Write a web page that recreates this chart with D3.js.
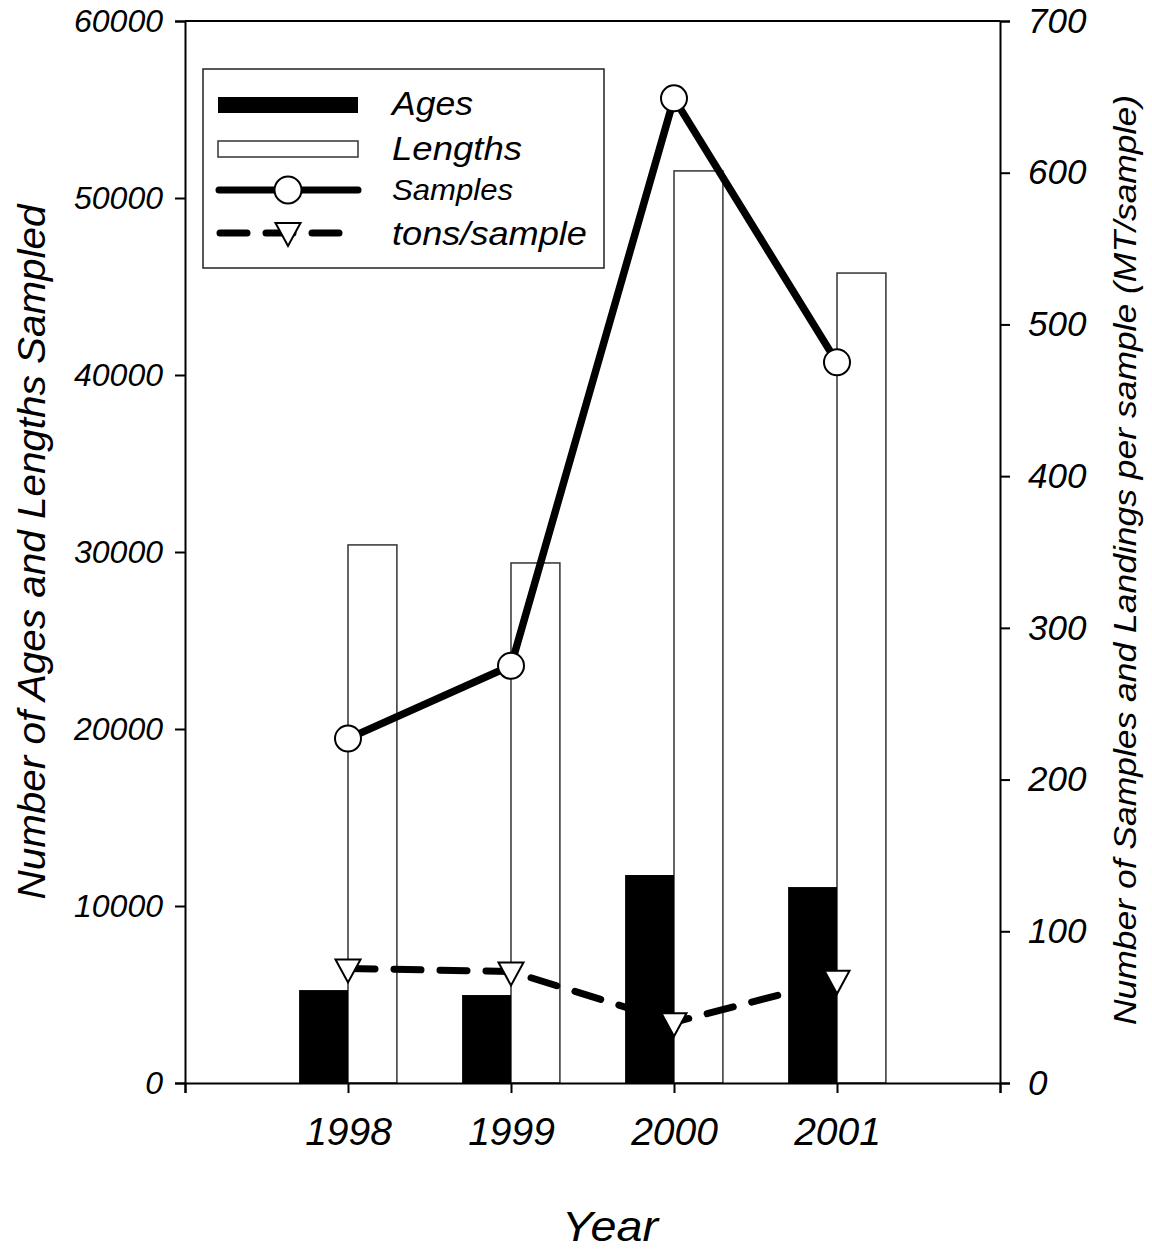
<!DOCTYPE html>
<html><head><meta charset="utf-8">
<script src="https://cdn.jsdelivr.net/npm/d3@7"></script>
<style>
body{margin:0;background:#fff;}
svg{display:block;font-family:"Liberation Sans",Arial,sans-serif;}
</style></head>
<body><svg id="c" width="1152" height="1253"></svg>
<script>
const years = [1998, 1999, 2000, 2001];
const ages = [5250, 4970, 11750, 11070];
const lengths = [30400, 29380, 51530, 45760];
const samples = [227, 275, 649, 475];
const tonsPerSample = [75.5, 73.5, 40, 68];
const leftTicks = [0, 10000, 20000, 30000, 40000, 50000, 60000];
const rightTicks = [0, 100, 200, 300, 400, 500, 600, 700];
const xTicks = [1997, 1998, 1999, 2000, 2001, 2002];
const xTickLabels = ["", "1998", "1999", "2000", "2001", ""];
const legendItems = ["Ages", "Lengths", "Samples", "tons/sample"];

const svg = d3.select("#c");
const L = 185, R = 1000, T = 21, B = 1083;
const x = d3.scaleLinear().domain([1997, 2002]).range([L, R]);
const yL = d3.scaleLinear().domain([0, 60000]).range([B, T]);
const yR = d3.scaleLinear().domain([0, 700]).range([B, T]);
const barW = (x(1998) - x(1997)) * 0.3;

// bars: lengths (white) right of tick, ages (black) left of tick
svg.append("g").selectAll("rect").data(years).join("rect")
  .attr("x", (d) => x(d)).attr("y", (d, i) => yL(lengths[i]))
  .attr("width", barW).attr("height", (d, i) => B - yL(lengths[i]))
  .attr("fill", "#fff").attr("stroke", "#333").attr("stroke-width", 1.5);
svg.append("g").selectAll("rect").data(years).join("rect")
  .attr("x", (d) => x(d) - barW).attr("y", (d, i) => yL(ages[i]))
  .attr("width", barW).attr("height", (d, i) => B - yL(ages[i]))
  .attr("fill", "#000");

// frame top line
svg.append("line").attr("x1", L).attr("x2", R).attr("y1", T).attr("y2", T)
  .attr("stroke", "#000").attr("stroke-width", 2);

// axes
const gl = svg.append("g").attr("transform", `translate(${L},0)`)
  .call(d3.axisLeft(yL).tickValues(leftTicks).tickSize(10).tickPadding(12).tickFormat(d3.format("d")));
gl.selectAll("text").attr("font-size", 32).attr("font-style", "italic").attr("font-family", "Liberation Sans");
const gr = svg.append("g").attr("transform", `translate(${R},0)`)
  .call(d3.axisRight(yR).tickValues(rightTicks).tickSize(10).tickPadding(18).tickFormat(d3.format("d")));
gr.selectAll("text").attr("font-size", 35).attr("font-style", "italic").attr("font-family", "Liberation Sans");
const gb = svg.append("g").attr("transform", `translate(0,${B})`)
  .call(d3.axisBottom(x).tickValues(xTicks).tickSize(10).tickPadding(24).tickFormat((d, i) => xTickLabels[i]));
gb.selectAll("text").attr("font-size", 39).attr("font-style", "italic").attr("font-family", "Liberation Sans");
[gl, gr, gb].forEach(g => {
  g.select(".domain").attr("stroke-width", 2);
  g.selectAll(".tick line").attr("stroke-width", 2);
  g.selectAll("text").attr("fill", "#000");
});

// tons/sample dashed line
svg.append("path").datum(years)
  .attr("d", d3.line().x(d => x(d)).y((d, i) => yR(tonsPerSample[i])))
  .attr("fill", "none").attr("stroke", "#000").attr("stroke-width", 7)
  .attr("stroke-dasharray", "27,19").attr("stroke-linecap", "round");
// samples line
svg.append("path").datum(years)
  .attr("d", d3.line().x(d => x(d)).y((d, i) => yR(samples[i])))
  .attr("fill", "none").attr("stroke", "#000").attr("stroke-width", 7.5)
  .attr("stroke-linejoin", "round");

const tri = (cx, cy) => `M${cx-12.5},${cy-9}L${cx+12.5},${cy-9}L${cx},${cy+14}Z`;
svg.append("g").selectAll("path").data(years).join("path")
  .attr("d", (d, i) => tri(x(d), yR(tonsPerSample[i])))
  .attr("fill", "#fff").attr("stroke", "#000").attr("stroke-width", 2);
svg.append("g").selectAll("circle").data(years).join("circle")
  .attr("cx", d => x(d)).attr("cy", (d, i) => yR(samples[i])).attr("r", 13)
  .attr("fill", "#fff").attr("stroke", "#000").attr("stroke-width", 2);

// legend
const lg = svg.append("g");
lg.append("rect").attr("x", 203).attr("y", 69).attr("width", 401).attr("height", 199)
  .attr("fill", "#fff").attr("stroke", "#222").attr("stroke-width", 1.5);
lg.append("rect").attr("x", 218).attr("y", 97).attr("width", 140).attr("height", 16).attr("fill", "#000");
lg.append("rect").attr("x", 218).attr("y", 141).attr("width", 140).attr("height", 16)
  .attr("fill", "#fff").attr("stroke", "#333").attr("stroke-width", 1.5);
lg.append("line").attr("x1", 219).attr("x2", 358).attr("y1", 190).attr("y2", 190)
  .attr("stroke", "#000").attr("stroke-width", 7).attr("stroke-linecap", "round");
lg.append("circle").attr("cx", 288).attr("cy", 190).attr("r", 13.5)
  .attr("fill", "#fff").attr("stroke", "#000").attr("stroke-width", 2);
lg.append("line").attr("x1", 220).attr("x2", 358).attr("y1", 233).attr("y2", 233)
  .attr("stroke", "#000").attr("stroke-width", 7).attr("stroke-linecap", "round")
  .attr("stroke-dasharray", "27,19");
lg.append("path").attr("d", tri(288, 232)).attr("fill", "#fff").attr("stroke", "#000").attr("stroke-width", 2);
const ly = [115, 160, 200, 245];
const lfs = [33, 33, 29, 33];
const lw = [81, 130, 121, 195];
lg.selectAll("text.lt").data(legendItems).join("text").attr("class", "lt")
  .attr("x", 392).attr("y", (d, i) => ly[i]).attr("font-size", (d, i) => lfs[i])
  .attr("textLength", (d, i) => lw[i]).attr("lengthAdjust", "spacingAndGlyphs")
  .attr("font-style", "italic").text(d => d);

// titles
svg.append("text").attr("transform", `translate(45,552) rotate(-90)`)
  .attr("text-anchor", "middle").attr("font-size", 39).attr("font-style", "italic")
  .attr("textLength", 695).attr("lengthAdjust", "spacingAndGlyphs")
  .text("Number of Ages and Lengths Sampled");
svg.append("text").attr("transform", `translate(1136,560) rotate(-90)`)
  .attr("text-anchor", "middle").attr("font-size", 31).attr("font-style", "italic")
  .attr("textLength", 930).attr("lengthAdjust", "spacingAndGlyphs")
  .text("Number of Samples and Landings per sample (MT/sample)");
svg.append("text").attr("x", 610).attr("y", 1241).attr("text-anchor", "middle")
  .attr("font-size", 42).attr("font-style", "italic")
  .attr("textLength", 96).attr("lengthAdjust", "spacingAndGlyphs").text("Year");
</script></body></html>
